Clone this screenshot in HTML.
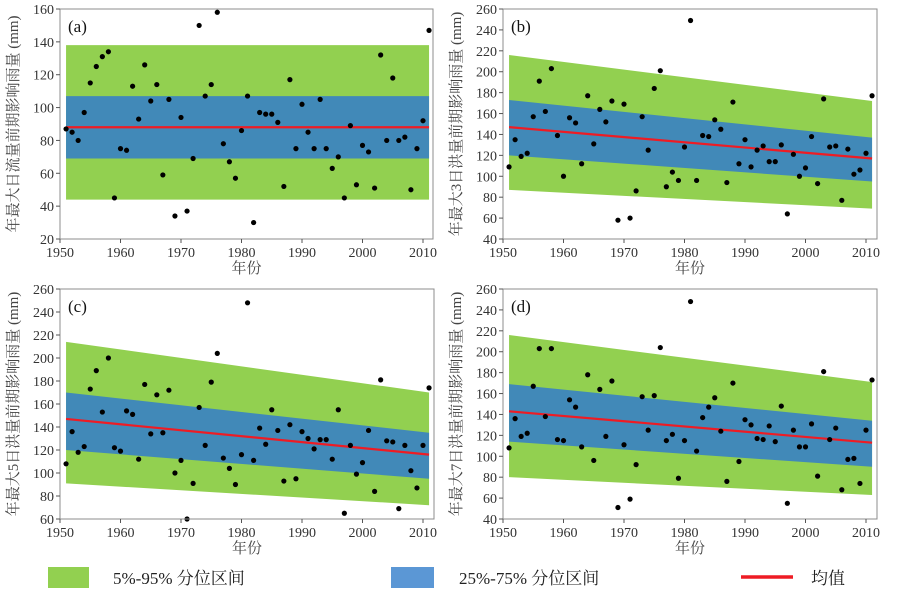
<!DOCTYPE html>
<html><head><meta charset="utf-8"><style>
body{margin:0;background:#fff;width:903px;height:590px;overflow:hidden;font-family:"Liberation Serif","Noto Serif CJK SC",serif}
svg{position:absolute;left:0;top:0}
</style></head><body>
<svg id="chart" width="903" height="590"></svg>
<script>
const years = []; for (let y = 1951; y <= 2011; y++) years.push(y);
const seriesA = [87,85,80,97,115,125,131,134,45,75,74,113,93,126,104,114,59,105,34,94,37,69,150,107,114,158,78,67,57,86,107,30,97,96,96,91,52,117,75,102,85,75,105,75,63,70,45,89,53,77,73,51,132,80,118,80,82,50,75,92,147];
const seriesB = [109,135,119,122,157,191,162,203,139,100,156,151,112,177,131,164,152,172,58,169,60,86,157,125,184,201,90,104,96,128,249,96,139,138,154,145,94,171,112,135,109,125,129,114,114,130,64,121,100,108,138,93,174,128,129,77,126,102,106,122,177];
const seriesC = [108,136,118,123,173,189,153,200,122,119,154,151,112,177,134,168,135,172,100,111,60,91,157,124,179,204,113,104,90,116,248,111,139,125,155,137,93,142,95,136,130,121,129,129,112,155,65,124,99,109,137,84,181,128,127,69,124,102,87,124,174];
const seriesD = [108,136,119,122,167,203,138,203,116,115,154,147,109,178,96,164,119,172,51,111,59,92,157,125,158,204,115,121,79,115,248,105,137,147,156,124,76,170,95,135,130,117,116,129,114,148,55,125,109,109,131,81,181,116,127,68,97,98,74,125,173];
// bands [start(1951), end(2011)]
const bandsA = {p5:[44,44],p25:[69,69],p75:[107,107],p95:[138,138],mean:[88,88]};
const bandsB = {p5:[87,69],p25:[120,95],p75:[173,137],p95:[216,172],mean:[147,117]};
const bandsC = {p5:[91,72],p25:[120,95],p75:[170,135],p95:[214,170],mean:[147,116]};
const bandsD = {p5:[80,63],p25:[114,90],p75:[169,134],p95:[216,171],mean:[143,113]};
const xTicks = [1950,1960,1970,1980,1990,2000,2010];
const yTicksA = [20,40,60,80,100,120,140,160];
const yTicksB = [40,60,80,100,120,140,160,180,200,220,240,260];
const yTicksC = [60,80,100,120,140,160,180,200,220,240,260];
const yTicksD = [40,60,80,100,120,140,160,180,200,220,240,260];

const NS = "http://www.w3.org/2000/svg";
const svg = document.getElementById('chart');
function mk(tag, attrs, parent, text){
  const e = document.createElementNS(NS, tag);
  for (const k in attrs) e.setAttribute(k, attrs[k]);
  if (text !== undefined) e.textContent = text;
  (parent || svg).appendChild(e); return e;
}
function panel(id, L, T, W, H, ymin, ymax, yTicks, data, bands, label, ylab){
  const g = mk('g', {});
  
  
  const xs = y => L + (y - 1950) * 6.05;
  const ys = v => T + H - (v - ymin) / (ymax - ymin) * H;
  const x0 = xs(1951), x1 = xs(2011);
  const poly = (lo, hi, fill, name) => {
    const p = mk('polygon', {points:`${x0},${ys(hi[0])} ${x1},${ys(hi[1])} ${x1},${ys(lo[1])} ${x0},${ys(lo[0])}`, fill:fill}, g);
    
    
  };
  poly(bands.p5, bands.p95, '#92d050', 'band-5-95');
  poly(bands.p25, bands.p75, '#4189b8', 'band-25-75');
  const ml = mk('line', {x1:x0, y1:ys(bands.mean[0]), x2:x1, y2:ys(bands.mean[1]), stroke:'#ee1c24', 'stroke-width':2.2}, g);
  
  
  data.forEach((v, i) => {
    const c = mk('circle', {cx:xs(years[i]), cy:ys(v), r:2.6, fill:'#000'}, g);
    
    
  });
  const fr = mk('rect', {x:L, y:T, width:W, height:H, fill:'none', stroke:'#8c8c8c', 'stroke-width':1}, g);
  
  
  xTicks.forEach(t => {
    mk('line', {x1:xs(t), y1:T+H, x2:xs(t), y2:T+H+4, stroke:'#555'}, g);
    const tx = mk('text', {x:xs(t), y:T+H+18, 'text-anchor':'middle', 'font-size':14, fill:'#333'}, g, t);
    
    
  });
  yTicks.forEach(t => {
    mk('line', {x1:L-4, y1:ys(t), x2:L, y2:ys(t), stroke:'#555'}, g);
    const tx = mk('text', {x:L-6, y:ys(t)+5, 'text-anchor':'end', 'font-size':14, fill:'#333'}, g, t);
    
    
  });
  const lb = mk('text', {x:L+8, y:T+23, 'font-size':17, fill:'#111'}, g, label);
  
  
  const xt = mk('text', {x:L+W/2, y:T+H+34, 'text-anchor':'middle', 'font-size':15, fill:'#444', 'font-family':'"Noto Serif CJK SC",serif'}, g, '年份');
  
  
  const yt = mk('text', {x:0, y:0, 'text-anchor':'middle', 'font-size':15, fill:'#444', transform:`translate(${L-42},${T+H/2}) rotate(-90)`, 'font-family':'"Liberation Serif","Noto Serif CJK SC",serif'}, g, ylab);
  
  
}
panel('a', 60, 9, 373, 230, 20, 160, yTicksA, seriesA, bandsA, '(a)', '年最大日流量前期影响雨量 (mm)');
panel('b', 503, 9, 374, 230, 40, 260, yTicksB, seriesB, bandsB, '(b)', '年最大3日洪量前期影响雨量 (mm)');
panel('c', 60, 289, 374, 230, 60, 260, yTicksC, seriesC, bandsC, '(c)', '年最大5日洪量前期影响雨量 (mm)');
panel('d', 503, 289, 374, 230, 40, 260, yTicksD, seriesD, bandsD, '(d)', '年最大7日洪量前期影响雨量 (mm)');

const lg = mk('g', {});


const e1 = mk('rect', {x:48, y:567, width:41, height:21, fill:'#92d050'}, lg);


const t1 = mk('text', {x:113, y:584, 'font-size':17, fill:'#222'}, lg, '5%-95% 分位区间');


const e2 = mk('rect', {x:391, y:567, width:43, height:21, fill:'#5b97d5'}, lg);


const t2 = mk('text', {x:459, y:584, 'font-size':17, fill:'#222'}, lg, '25%-75% 分位区间');


const e3 = mk('line', {x1:741, y1:577, x2:793, y2:577, stroke:'#ee1c24', 'stroke-width':3.5}, lg);


const t3 = mk('text', {x:811, y:584, 'font-size':17, fill:'#222'}, lg, '均值');


</script>
</body></html>
